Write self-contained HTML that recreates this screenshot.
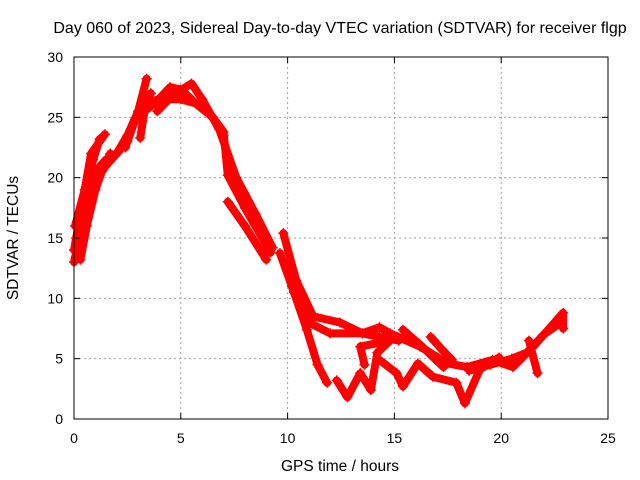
<!DOCTYPE html>
<html><head><meta charset="utf-8"><style>
body{margin:0;background:#fff;}
svg{display:block;font-family:"Liberation Sans",sans-serif;}
</style></head><body>
<svg id="chart" width="640" height="480">
<rect width="640" height="480" fill="#fff"/>
<g id="grid"></g>
<g id="series"></g>
<rect x="74" y="57" width="534" height="362" fill="none" stroke="#000" stroke-width="1"/>
<g id="ticks"></g>
<text x="340" y="33" text-anchor="middle" font-size="16">Day 060 of 2023, Sidereal Day-to-day VTEC variation (SDTVAR) for receiver flgp</text>
<text x="340" y="471" text-anchor="middle" font-size="15.5">GPS time / hours</text>
<text transform="translate(18,238) rotate(-90)" text-anchor="middle" font-size="15.5">SDTVAR / TECUs</text>
</svg>
<script>
const xTicks=[0,5,10,15,20,25];
const yTicks=[0,5,10,15,20,25,30];
const track1=[[0,13],[0.5,17],[1,20.5],[1.5,21.5],[2,22],[2.5,23.5],[3,25.5],[3.4,28.2]];
const track2=[[0,14],[0.4,18],[0.8,22],[1.45,23.6]];
const track3=[[0.2,13.5],[0.7,19],[1.5,21],[2.5,23],[3,25.5],[3.5,26.3],[4,26.5],[5,26.5],[6,26],[6.5,25],[7,23.5]];
const track4=[[3.1,23.3],[3.3,25.5],[3.8,26.2],[4.5,27.5],[5,27.3],[5.5,26.5],[5.8,26],[6.5,25],[7,23.8],[7.2,20.2],[8,17.5],[9.2,13.8]];
const track5=[[3.9,25.5],[4.6,26.8],[5.5,27.8],[6,26.5],[6.8,24],[7.6,20],[8.5,17],[9.3,14.2]];
const track6=[[7.2,18],[8,16],[9,13.2]];
const track7=[[9.8,15.4],[10.4,11.5],[11.2,8.5],[12.45,8],[13.5,7.1],[14.3,7.6],[14.8,7.1],[16.2,6],[17.5,4.6],[18.4,4.3],[19.6,4.9],[20.55,4.3],[21.5,6],[22.9,8.8],[22.9,7.5]];
const track8=[[9.64,13.75],[10.3,10.5],[11.05,7.95],[11.99,7.1],[13.5,7.1],[14.3,6.8],[15.2,6.5]];
const track9=[[10.2,11],[10.9,7.4],[11.4,4.5],[11.85,3.0]];
const track10=[[12.3,3.2],[12.8,1.8],[13.4,3.8],[13.9,2.4],[14.2,5.5],[14.8,6.5],[13.4,6],[13.6,4.5]];
const track11=[[14.3,4.9],[15.1,3.8],[15.4,2.7],[16.1,4.6],[16.8,3.5],[17.9,3.0],[18.3,1.3],[19.0,4.1],[19.9,5.1]];
const track12=[[15.4,7.4],[16.3,6],[17.3,4.3]];
const track13=[[16.7,6.8],[17.2,5.8],[17.7,4.9]];
const track14=[[21.3,6.5],[21.7,3.8]];
const track15=[[0.1,15],[0.3,13.2],[0.6,16],[1.0,19],[1.3,20.5],[1.7,22]];
const track16=[[0.05,16],[0.5,19],[0.9,21.5],[1.2,23.2]];
const track17=[[2.4,22.5],[2.8,24.5],[3.2,26],[3.6,27]];
const track18=[[18.5,4],[19.5,4.5],[20.5,5],[21.2,5.5],[22,7],[22.8,8]];
const tracks=[track1,track2,track3,track4,track5,track6,track7,track8,track9,track10,track11,track12,track13,track14,track15,track16,track17,track18];
const X0=74,X1=608,Y0=419,Y1=57;
const xs=v=>X0+(v/25)*(X1-X0);
const ys=v=>Y0-(v/30)*(Y0-Y1);
const NS='http://www.w3.org/2000/svg';
const grid=document.getElementById('grid'),ticks=document.getElementById('ticks'),ser=document.getElementById('series');
function mk(tag,attrs,parent){const e=document.createElementNS(NS,tag);for(const k in attrs)e.setAttribute(k,attrs[k]);parent.appendChild(e);return e;}
xTicks.forEach(t=>{const x=xs(t);
 if(t>0&&t<25){const g=mk('line',{x1:x,x2:x,y1:Y0,y2:Y1,stroke:'#a0a0a0','stroke-dasharray':'2,3'},grid);
 
 }
 const a=mk('line',{x1:x,x2:x,y1:Y0,y2:Y0-6,stroke:'#000'},ticks);
 
 
 const b=mk('line',{x1:x,x2:x,y1:Y1,y2:Y1+6,stroke:'#000'},ticks);
 
 
 const l=mk('text',{x:x,y:Y0+24,'text-anchor':'middle','font-size':'14'},ticks);l.textContent=t;
 
 
});
yTicks.forEach(t=>{const y=ys(t);
 if(t>0&&t<30){const g=mk('line',{x1:X0,x2:X1,y1:y,y2:y,stroke:'#a0a0a0','stroke-dasharray':'2,3'},grid);
 
 }
 const a=mk('line',{x1:X0,x2:X0+6,y1:y,y2:y,stroke:'#000'},ticks);
 
 
 const b=mk('line',{x1:X1,x2:X1-6,y1:y,y2:y,stroke:'#000'},ticks);
 
 
 const l=mk('text',{x:X0-11,y:y+5,'text-anchor':'end','font-size':'14'},ticks);l.textContent=t;
 
 
});
tracks.forEach(tr=>{
 const p=mk('polyline',{points:tr.map(d=>xs(d[0])+','+ys(d[1])).join(' '),fill:'none',stroke:'#ff0000','stroke-width':'8','stroke-linejoin':'round','stroke-linecap':'round'},ser);
 
 
 tr.forEach(d=>{const cx=xs(d[0]),cy=ys(d[1]);
  const m=mk('path',{d:`M${cx-5},${cy}H${cx+5}M${cx},${cy-5}V${cy+5}`,stroke:'#ff0000','stroke-width':'1.5'},ser);
  
  
 });
});
</script>
</body></html>
